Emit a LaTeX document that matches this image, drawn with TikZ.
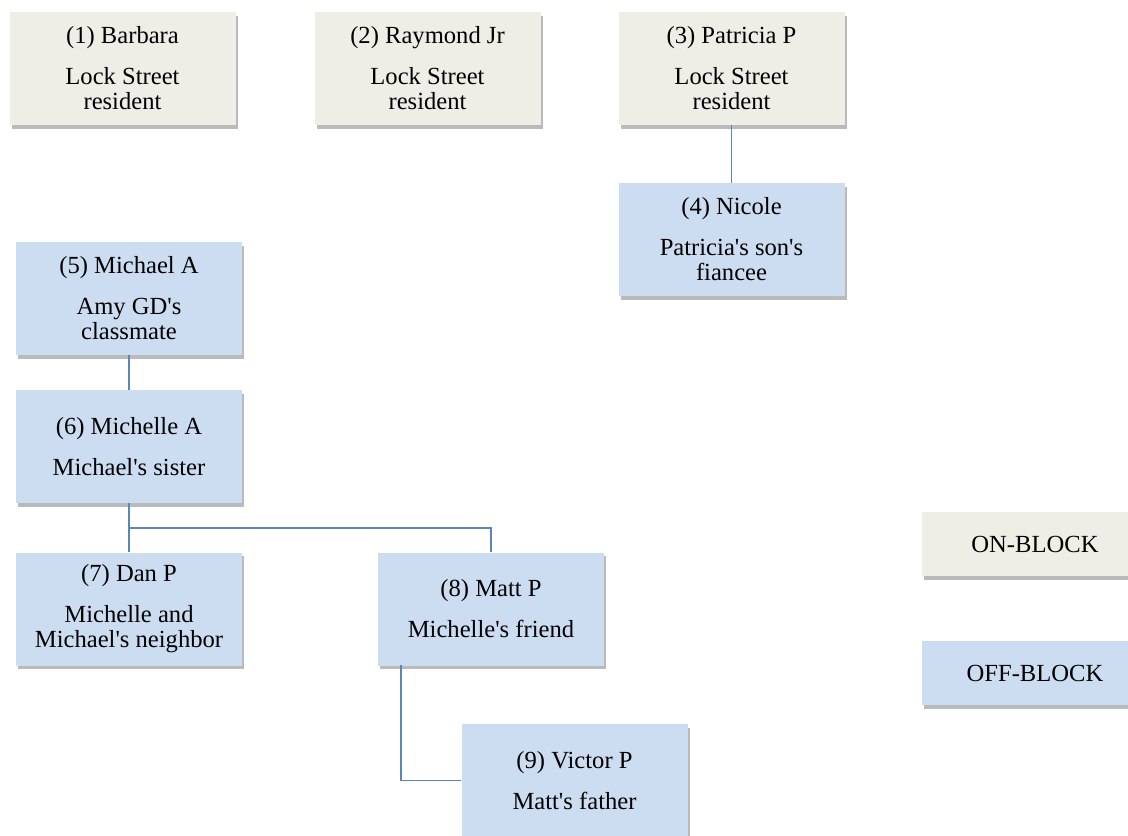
\documentclass[tikz,border=0pt]{standalone}
\usepackage{fontspec}
\setmainfont{Liberation Serif}
\usepackage{tikz}
\usetikzlibrary{shadows}

\definecolor{onblock}{HTML}{EEEDE6}
\definecolor{offblock}{HTML}{CCDDF1}
\definecolor{tieline}{HTML}{5A86BA}
\newcommand{\ap}{\textquotesingle}

\begin{document}
\begin{tikzpicture}[x=0.5pt,y=-0.5pt,
  person/.style={rectangle,inner sep=0pt,minimum width=113pt,minimum height=56.5pt,
    align=center,font=\fontsize{12.3}{12.5}\selectfont,
    drop shadow={shadow xshift=1.2pt,shadow yshift=-1.8pt,fill=black!60,opacity=0.45}},
  on/.style={person,fill=onblock},
  off/.style={person,fill=offblock},
  key/.style={minimum height=32pt},
  tie/.style={draw=tieline,line width=0.9pt}]
\useasboundingbox (0,0) rectangle (1128,835);
\node [on] (barbara) at (122.5,68.5) {(1) Barbara\\[8pt]Lock Street\\resident};
\node [on] (raymond) at (427.5,68.5) {(2) Raymond Jr\\[8pt]Lock Street\\resident};
\node [on] (patricia) at (731.5,68.5) {(3) Patricia P\\[8pt]Lock Street\\resident};
\node [off] (nicole) at (731.5,239.5) {(4) Nicole\\[8pt]Patricia\ap s son\ap s\\fiancee};
\node [off] (michael) at (129,298.5) {(5) Michael A\\[8pt]Amy GD\ap s\\classmate};
\node [off] (michelle) at (129,446.5) {(6) Michelle A\\[8pt]Michael\ap s sister};
\node [off] (dan) at (129,609) {(7) Dan P\\[8pt]Michelle and\\Michael\ap s neighbor};
\node [off] (matt) at (491,609) {(8) Matt P\\[8pt]Michelle\ap s friend};
\node [off] (victor) at (574.5,780.5) {(9) Victor P\\[8pt]Matt\ap s father};
\node [on,key] (onkey) at (1035,544) {ON-BLOCK};
\node [off,key] (offkey) at (1035,673) {OFF-BLOCK};
\coordinate (split) at (129,528);
\coordinate (mattdrop) at (401,665);
\draw [tie] (patricia) -- (nicole);
\draw [tie] (michael) -- (michelle);
\draw [tie] (michelle) -- (dan);
\draw [tie] (split) -| (matt);
\draw [tie] (mattdrop) |- (victor);
\end{tikzpicture}
\end{document}
